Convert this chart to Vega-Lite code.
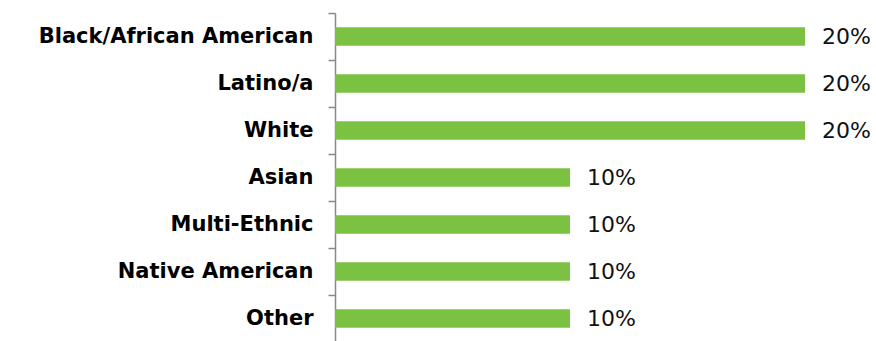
{
  "$schema": "https://vega.github.io/schema/vega-lite/v6.json",
  "width": 470,
  "height": 329,
  "autosize": {"type": "none"},
  "padding": {"left": 335, "top": 13, "right": 71, "bottom": 0},
  "background": "white",
  "config": {"view": {"stroke": null}},
  "data": {
    "values": [
      {"group": "Black/African American", "share": 0.2},
      {"group": "Latino/a", "share": 0.2},
      {"group": "White", "share": 0.2},
      {"group": "Asian", "share": 0.1},
      {"group": "Multi-Ethnic", "share": 0.1},
      {"group": "Native American", "share": 0.1},
      {"group": "Other", "share": 0.1}
    ]
  },
  "encoding": {
    "y": {
      "field": "group",
      "type": "nominal",
      "sort": null,
      "scale": {"paddingInner": 0, "paddingOuter": 0},
      "axis": {
        "title": null,
        "bandPosition": 0,
        "domainColor": "#888888",
        "tickColor": "#888888",
        "domainWidth": 1.5,
        "tickWidth": 1.5,
        "tickSize": 7,
        "labelPadding": 15,
        "labelFont": "DejaVu Sans",
        "labelFontWeight": "bold",
        "labelFontSize": 21,
        "labelColor": "#000000",
        "labelLimit": 400
      }
    },
    "x": {
      "field": "share",
      "type": "quantitative",
      "scale": {"domain": [0, 0.2], "nice": false},
      "axis": null
    }
  },
  "layer": [
    {"mark": {"type": "bar", "color": "#7CC242", "height": {"band": 0.39}}},
    {
      "mark": {"type": "text", "align": "left", "dx": 17, "font": "DejaVu Sans", "fontSize": 22, "color": "#111111"},
      "encoding": {"text": {"field": "share", "type": "quantitative", "format": ".0%"}}
    }
  ]
}
